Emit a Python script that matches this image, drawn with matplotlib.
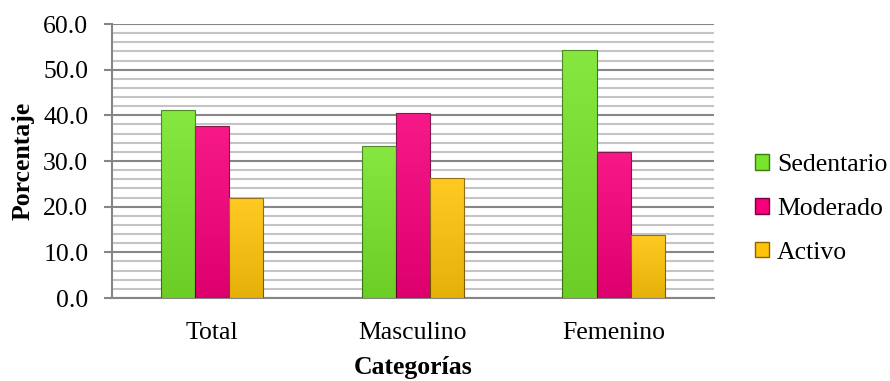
import numpy as np
import matplotlib
matplotlib.use("Agg")
import matplotlib.pyplot as plt
from matplotlib.patches import Patch

categories = ["Total", "Masculino", "Femenino"]
series = ["Sedentario", "Moderado", "Activo"]
sedentario = [41.1, 33.3, 54.4]
moderado = [37.6, 40.6, 32.0]
activo = [21.9, 26.3, 13.9]

colors = ["#78e42a", "#f5007a", "#ffc40a"]
edges = ["#3d7a12", "#7a0040", "#8a6200"]

plt.rcParams['font.family'] = ['Liberation Serif', 'DejaVu Serif']
fs = 18.5

fig = plt.figure(figsize=(8.9, 3.81), dpi=100)
ax = fig.add_axes([0.1258, 0.2178, 0.6764, 0.7192])

x = np.arange(len(categories))
width = 0.17
shade = matplotlib.colors.LinearSegmentedColormap.from_list('s', ['#000000', '#ffffff'])

for i, (name, vals) in enumerate(zip(series, [sedentario, moderado, activo])):
    bars = ax.bar(x + (i - 1) * width, vals, width, color=colors[i], edgecolor=edges[i],
                  linewidth=0.8, label=name, zorder=3)
    # slight darkening toward the base of each bar
    for b in bars:
        grad = np.linspace(0, 1, 50).reshape(-1, 1)
        im = ax.imshow(grad, extent=[b.get_x(), b.get_x() + b.get_width(), 0, b.get_height()],
                       aspect='auto', cmap=shade, alpha=0.1, zorder=3.5, origin='lower')
        im.set_clip_path(b)

ax.set_xlim(-0.5, 2.5)
ax.set_ylim(0, 60)
ax.set_yticks(np.arange(0, 61, 10))
ax.set_yticklabels([f"{v:.1f}" for v in np.arange(0, 61, 10)])
ax.set_yticks(np.arange(0, 61, 2), minor=True)
ax.set_xticks(x)
ax.set_xticklabels(categories)

ax.grid(axis='y', which='major', color='#868686', linewidth=1.5, zorder=0)
ax.grid(axis='y', which='minor', color='#c4c4c4', linewidth=1.5, zorder=0)
ax.set_axisbelow(True)

for s in ['top', 'right']:
    ax.spines[s].set_visible(False)
ax.spines['left'].set_color('#868686')
ax.spines['bottom'].set_color('#868686')
ax.spines['left'].set_linewidth(1.5)
ax.spines['bottom'].set_linewidth(1.5)

ax.tick_params(axis='y', which='major', length=6, color='#868686', width=1.5, labelsize=fs, pad=11)
ax.tick_params(axis='y', which='minor', length=0)
ax.tick_params(axis='x', length=0, labelsize=fs, pad=17)

ax.set_xlabel("Categorías", fontsize=fs, fontweight='bold')
ax.set_ylabel("Porcentaje", fontsize=fs, fontweight='bold')
ax.xaxis.set_label_coords(0.5, -0.213)
ax.yaxis.set_label_coords(-0.129, 0.5)

handles = [Patch(facecolor=colors[i], edgecolor=edges[i], label=series[i]) for i in range(3)]
ax.legend(handles=handles, loc='center left', bbox_to_anchor=(1.043, 0.325), frameon=False,
          fontsize=fs, handlelength=0.55, handleheight=0.55, handletextpad=0.3, labelspacing=0.85,
          borderaxespad=0.2)

fig.savefig("out.png", dpi=100)
